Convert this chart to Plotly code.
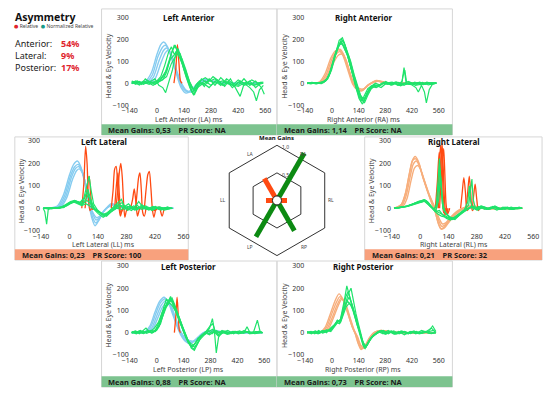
import math
import plotly.graph_objects as go

# ------------------------------------------------------------------ data
TICKS_X = [-140, 0, 140, 280, 420, 560]
TICKS_Y = [-100, 0, 100, 200, 300]

ASYM_LABELS = ["Anterior:", "Lateral:", "Posterior:"]
ASYM_VALUES = ["54%", "9%", "17%"]

GAIN_KEYS = ["LA", "RA", "LL", "RL", "LP", "RP"]
GAIN_VALUES = [0.53, 1.14, 0.23, 0.21, 0.88, 0.73]
GAIN_TEXT = ["0,53", "1,14", "0,23", "0,21", "0,88", "0,73"]
PR_SCORES = ["NA", "NA", "100", "32", "NA", "NA"]
GAIN_ANGLES = [120, 60, 180, 0, -120, -60]
GAIN_OK = [False, True, False, False, True, True]
PR_OK = [True, True, False, False, True, True]
RADAR_RINGS = [0.5, 1.0]
RING_LABELS = ["0.5", "1.0"]

# --- Left Anterior
LA_HEAD = [
    [(-130,0),(-90,2),(-60,8),(-30,45),(0,130),(20,175),(35,187),(55,165),(80,100),(105,30),(125,-20),(150,-45),(175,-35),(205,-5),(245,18),(290,8),(340,0),(430,-3),(540,0)],
    [(-130,0),(-90,0),(-55,5),(-25,35),(5,120),(30,165),(45,172),(65,145),(90,80),(115,15),(135,-25),(160,-40),(185,-28),(215,0),(255,15),(300,5),(360,0),(450,-2),(540,0)],
    [(-130,0),(-85,0),(-50,3),(-20,25),(10,100),(35,150),(52,160),(72,130),(98,60),(122,5),(145,-30),(170,-38),(195,-20),(225,2),(260,14),(310,4),(380,0),(470,0),(540,0)],
    [(-130,0),(-80,0),(-40,2),(-10,20),(20,90),(45,140),(60,150),(80,120),(105,50),(130,-5),(155,-35),(180,-40),(205,-18),(235,5),(270,12),(320,3),(400,0),(540,0)],
]
LA_EYE = [
    [(-130,5),(-110,-5),(-90,8),(-70,0),(-50,12),(-30,3),(-10,-5),(10,8),(30,15),(50,50),(70,120),(90,174),(105,150),(120,120),(140,60),(160,10),(180,-40),(195,-50),(210,-10),(230,15),(250,25),(275,10),(300,20),(330,-5),(360,10),(390,-20),(420,5),(450,-10),(480,0),(510,-5),(540,5)],
    [(-130,-3),(-100,10),(-80,-5),(-60,20),(-40,5),(-20,0),(0,10),(20,30),(40,80),(60,140),(75,165),(90,130),(110,157),(125,110),(150,30),(170,-20),(190,-55),(205,-20),(230,20),(260,0),(290,30),(320,10),(350,-15),(380,20),(410,-30),(430,-60),(450,-5),(480,10),(510,-20),(530,-5),(550,0)],
    [(-130,8),(-110,0),(-90,-8),(-70,10),(-50,0),(-30,10),(-10,20),(10,-10),(30,-20),(45,-43),(60,0),(80,60),(100,143),(115,120),(130,90),(150,40),(170,0),(185,-45),(200,-10),(220,10),(245,-15),(270,20),(300,-10),(330,25),(360,0),(390,-10),(420,15),(450,0),(480,-20),(500,-40),(514,-80),(530,-30),(550,-10)],
    [(-130,0),(-100,5),(-70,-5),(-40,8),(-10,0),(20,20),(50,60),(70,110),(90,129),(105,150),(120,135),(140,80),(160,20),(180,-20),(200,-40),(220,-5),(250,10),(280,-10),(310,15),(340,-10),(370,5),(400,-15),(430,10),(460,-5),(490,15),(520,0),(550,5)],
    [(-130,10),(-100,0),(-70,5),(-40,-5),(-10,10),(20,10),(50,30),(75,90),(95,120),(115,140),(130,100),(150,50),(170,5),(190,-30),(210,-20),(240,0),(270,-20),(300,10),(330,-10),(360,20),(390,0),(420,-10),(450,20),(480,-10),(510,10),(540,-20),(555,-50)],
    [(-130,0),(-110,10),(-80,0),(-50,5),(-20,-10),(10,5),(40,40),(60,100),(80,150),(95,170),(110,145),(130,110),(150,60),(170,0),(190,-30),(210,0),(240,-5),(270,15),(300,0),(340,10),(380,-5),(420,-15),(460,5),(500,-10),(540,0)],
]
LA_SAC = [
    [(88,0),(98,70),(106,175),(114,90),(122,10),(130,0)],
]

# --- Right Anterior
RA_HEAD = [
    [(-130,0),(-90,0),(-60,5),(-30,40),(0,110),(25,145),(42,155),(62,130),(88,60),(110,0),(135,-28),(160,-32),(190,-8),(235,10),(280,0),(400,0),(545,0)],
    [(-130,0),(-90,0),(-55,4),(-25,35),(5,105),(28,138),(45,143),(65,120),(92,50),(115,-5),(140,-30),(165,-28),(195,-5),(240,8),(290,0),(420,0),(545,0)],
    [(-130,0),(-85,0),(-50,3),(-20,30),(10,95),(35,128),(52,132),(72,110),(96,45),(118,-5),(145,-25),(170,-25),(200,-3),(245,10),(300,0),(440,0),(545,0)],
    [(-130,0),(-95,0),(-65,6),(-35,45),(-5,115),(20,148),(38,152),(58,125),(85,55),(108,-3),(132,-30),(158,-35),(188,-10),(232,12),(280,2),(380,0),(545,0)],
]
RA_EYE = [
    [(-130,0),(-110,-3),(-85,3),(-60,0),(-40,6),(-20,25),(0,75),(20,145),(38,195),(55,207),(70,170),(88,110),(105,50),(122,0),(138,-50),(152,-82),(168,-60),(188,-25),(210,-10),(235,-18),(262,0),(290,-6),(320,4),(350,-8),(368,10),(378,71),(390,-5),(415,0),(445,-6),(475,4),(505,-8),(545,0)],
    [(-130,3),(-105,0),(-80,-3),(-55,4),(-35,10),(-15,35),(5,90),(25,150),(42,180),(58,175),(75,150),(92,90),(110,30),(126,-20),(142,-70),(160,-95),(175,-70),(195,-30),(220,-5),(245,-15),(272,5),(300,-5),(330,0),(360,-12),(390,0),(420,-8),(440,-20),(453,-40),(470,-10),(485,-40),(495,-90),(510,-30),(530,0),(548,2)],
    [(-130,-2),(-100,2),(-75,0),(-50,5),(-28,18),(-8,55),(12,120),(30,165),(48,190),(62,160),(80,130),(96,80),(114,25),(130,-30),(148,-65),(165,-85),(182,-50),(200,-20),(228,0),(255,-10),(282,8),(310,-10),(340,5),(370,-5),(400,8),(430,-4),(460,5),(490,-5),(520,3),(548,0)],
    [(-130,0),(-105,4),(-80,0),(-55,-2),(-30,12),(-10,45),(10,105),(30,160),(50,200),(64,185),(80,140),(98,100),(116,40),(132,-10),(150,-55),(168,-75),(186,-40),(205,-15),(232,-20),(260,-5),(288,5),(318,-8),(348,3),(378,-10),(408,5),(438,-10),(468,-5),(498,5),(528,-3),(548,0)],
    [(-130,2),(-100,0),(-70,3),(-45,2),(-22,20),(-2,60),(18,125),(36,170),(52,185),(68,155),(84,120),(100,70),(118,15),(135,-35),(152,-60),(170,-90),(188,-55),(206,-25),(232,-10),(258,-20),(285,0),(315,5),(345,-10),(375,0),(405,-5),(435,5),(465,-8),(495,0),(525,-5),(548,0)],
    [(-130,0),(-110,2),(-85,-2),(-60,3),(-38,8),(-18,30),(2,85),(22,140),(40,175),(56,195),(72,165),(90,120),(108,60),(124,5),(140,-40),(158,-70),(176,-65),(195,-35),(218,-12),(245,-8),(275,3),(305,-4),(335,6),(365,-6),(372,30),(382,60),(392,0),(420,-5),(450,3),(480,-6),(510,2),(548,0)],
]
RA_SAC = []

# --- Left Lateral
LL_HEAD = [
    [(-130,0),(-90,2),(-60,10),(-30,60),(0,150),(20,195),(38,210),(55,185),(75,110),(95,20),(110,-45),(125,-78),(140,-60),(160,-25),(180,0),(205,20),(235,10),(280,0),(400,0),(510,0)],
    [(-130,0),(-85,2),(-55,8),(-25,55),(5,145),(25,185),(42,195),(60,170),(80,100),(98,15),(113,-40),(128,-65),(145,-50),(165,-18),(185,2),(210,18),(240,8),(290,0),(420,0),(510,0)],
    [(-130,0),(-80,0),(-50,6),(-20,50),(10,140),(30,178),(45,185),(63,160),(83,90),(100,10),(116,-30),(130,-52),(148,-40),(168,-12),(190,5),(215,16),(245,6),(300,0),(510,0)],
    [(-130,0),(-78,0),(-45,5),(-15,45),(15,130),(35,168),(48,175),(66,150),(86,80),(103,5),(118,-25),(133,-42),(152,-32),(172,-8),(195,8),(220,14),(252,5),(310,0),(510,0)],
]
LL_EYE = [
    [(-130,0),(-122,-15),(-113,-71),(-105,-5),(-90,0),(-70,3),(-50,0),(-30,5),(-10,12),(10,25),(30,30),(50,22),(65,25),(78,55),(88,71),(98,40),(112,5),(130,-10),(150,-20),(172,-32),(195,-15),(220,5),(245,18),(270,-5),(295,10),(320,-8),(350,5),(380,-5),(410,8),(440,-5),(470,3),(505,0)],
    [(-130,0),(-110,2),(-90,-3),(-70,2),(-50,5),(-30,3),(-10,15),(10,28),(30,33),(50,25),(70,45),(85,100),(96,143),(106,80),(118,20),(135,-5),(155,-25),(175,-30),(198,-10),(222,10),(240,30),(255,40),(268,10),(290,-5),(315,10),(345,0),(375,10),(405,-10),(435,5),(465,-8),(505,0)],
    [(-130,2),(-105,0),(-80,3),(-55,0),(-35,8),(-15,18),(5,30),(25,35),(45,28),(65,20),(85,35),(100,25),(118,0),(140,-15),(162,-28),(185,-20),(210,-5),(235,15),(258,25),(280,0),(305,-10),(330,15),(355,-5),(385,5),(415,-5),(445,5),(475,-3),(505,0)],
    [(-130,0),(-100,3),(-75,0),(-50,2),(-25,10),(0,25),(20,32),(40,25),(60,15),(80,40),(92,60),(105,30),(125,-5),(145,-18),(168,-35),(190,-25),(215,-5),(240,10),(265,5),(290,20),(315,-5),(340,30),(360,5),(390,-8),(420,5),(450,-8),(480,5),(505,0)],
    [(-130,0),(-110,0),(-90,2),(-65,0),(-40,6),(-20,12),(0,20),(20,28),(40,20),(60,12),(80,20),(100,10),(120,-5),(142,-25),(165,-40),(188,-28),(212,-10),(238,5),(262,15),(285,-10),(310,5),(335,-5),(360,10),(392,-5),(422,8),(452,-5),(482,5),(505,-2)],
    [(-130,0),(-105,-3),(-80,2),(-55,0),(-30,4),(-5,18),(15,25),(35,30),(55,25),(75,50),(90,85),(102,45),(120,0),(140,-12),(160,-20),(182,-35),(205,-15),(230,0),(255,-5),(280,10),(305,0),(330,-8),(355,15),(380,0),(410,-6),(440,6),(470,-4),(505,0)],
]
LL_SAC = [
    [(60,0),(70,110),(79,275),(86,200),(92,60),(100,-10),(108,0)],
    [(76,0),(86,80),(96,143),(104,60),(112,-5),(120,0)],
    [(205,0),(214,80),(222,175),(229,186),(236,110),(244,0),(250,-35),(258,-10),(266,0)],
    [(228,0),(238,90),(246,170),(252,200),(259,140),(266,20),(272,-40),(280,-10),(290,0)],
    [(222,0),(230,100),(238,157),(245,60),(252,-20),(262,0)],
    [(300,0),(310,40),(318,86),(326,30),(334,-35),(344,-5),(352,0)],
    [(325,0),(333,80),(340,140),(346,157),(353,80),(360,-20),(368,-35),(376,0)],
    [(368,0),(377,90),(385,150),(392,164),(400,90),(408,-10),(415,-40),(424,0)],
    [(400,0),(420,-10),(440,5),(455,-35),(465,0)],
]

# --- Right Lateral
RL_HEAD = [
    [(-130,0),(-115,5),(-95,15),(-75,60),(-55,150),(-40,210),(-25,230),(-10,210),(10,150),(35,80),(55,30),(72,-10),(88,-60),(102,-90),(118,-85),(140,-60),(170,-30),(200,-8),(225,5),(260,10),(300,2),(380,0),(505,0)],
    [(-130,0),(-110,4),(-90,12),(-70,55),(-50,140),(-35,195),(-20,210),(-5,190),(15,135),(40,70),(60,25),(76,-10),(92,-55),(106,-80),(122,-75),(145,-50),(175,-22),(205,-5),(232,6),(268,8),(310,0),(505,0)],
    [(-130,0),(-105,3),(-85,10),(-65,45),(-45,125),(-28,180),(-12,190),(3,170),(22,120),(45,60),(65,20),(80,-12),(96,-50),(110,-70),(126,-65),(150,-40),(180,-15),(210,0),(240,8),(275,5),(320,0),(505,0)],
    [(-130,0),(-112,6),(-92,18),(-72,70),(-52,160),(-36,215),(-22,220),(-6,198),(12,140),(36,75),(56,25),(74,-15),(90,-70),(104,-93),(120,-88),(142,-62),(172,-30),(202,-8),(228,4),(262,10),(305,0),(505,0)],
]
RL_EYE = [
    [(-130,0),(-110,2),(-90,5),(-70,8),(-50,15),(-30,22),(-10,28),(10,30),(25,35),(40,20),(55,5),(70,-5),(80,20),(88,120),(95,221),(102,130),(110,20),(125,-20),(145,-40),(160,-50),(180,-40),(205,-20),(230,-5),(255,10),(280,-8),(305,10),(330,-5),(360,8),(390,-5),(420,5),(450,-5),(480,3),(505,0)],
    [(-130,2),(-105,0),(-85,6),(-60,10),(-40,18),(-20,25),(0,30),(18,38),(33,30),(48,10),(63,0),(78,-10),(92,40),(100,150),(108,60),(118,-10),(135,-30),(152,-45),(172,-50),(195,-30),(218,-10),(236,30),(243,100),(250,30),(262,-5),(290,8),(320,-5),(350,5),(380,-8),(410,5),(440,-5),(470,3),(505,0)],
    [(-130,0),(-108,3),(-88,4),(-65,10),(-45,15),(-25,24),(-5,32),(15,35),(30,25),(45,12),(60,0),(75,-15),(95,-10),(112,-30),(130,-45),(150,-52),(170,-40),(192,-25),(215,-8),(240,15),(248,90),(256,130),(262,40),(275,-5),(300,10),(330,-5),(360,5),(390,0),(420,-5),(450,5),(480,-3),(505,0)],
    [(-130,0),(-112,0),(-92,5),(-72,6),(-52,12),(-32,20),(-12,26),(8,28),(22,38),(37,28),(52,8),(67,-8),(85,-25),(105,-35),(125,-40),(145,-45),(165,-42),(185,-30),(210,-15),(235,0),(260,5),(285,-8),(310,5),(340,-5),(370,10),(400,-5),(430,5),(460,-5),(490,5),(505,0)],
    [(-130,2),(-100,3),(-80,6),(-60,12),(-40,16),(-20,22),(0,28),(20,32),(35,22),(50,8),(65,-5),(82,10),(90,80),(97,180),(104,100),(112,0),(128,-25),(146,-38),(166,-45),(188,-35),(210,-18),(232,-5),(258,5),(284,-5),(310,8),(338,-5),(366,5),(396,-5),(426,3),(456,-5),(486,3),(505,0)],
    [(-130,0),(-106,2),(-84,5),(-62,9),(-42,14),(-22,20),(-2,25),(16,30),(30,34),(44,22),(58,5),(74,-10),(94,-20),(114,-30),(134,-40),(154,-48),(176,-42),(198,-28),(220,-12),(242,0),(266,8),(292,-3),(318,6),(346,-4),(374,6),(404,-4),(434,4),(464,-4),(494,2),(505,0)],
]
RL_SAC = [
    [(75,0),(85,120),(94,250),(100,200),(108,60),(116,-20),(125,0)],
    [(82,0),(92,140),(101,280),(108,200),(115,40),(122,-30),(132,0)],
    [(90,0),(100,150),(108,290),(114,180),(120,40),(128,-30),(138,0)],
    [(96,0),(106,160),(116,265),(122,150),(128,20),(136,-25),(146,0)],
    [(200,0),(208,70),(216,136),(224,70),(232,-10),(242,0)],
    [(228,0),(236,80),(243,143),(250,70),(258,-10),(268,0)],
    [(258,0),(265,60),(272,107),(280,40),(288,-10),(296,0)],
]

# --- Left Posterior
LP_HEAD = [
    [(-130,0),(-90,0),(-60,5),(-35,30),(-10,90),(15,140),(38,159),(58,140),(82,85),(105,30),(125,-10),(150,-40),(174,-50),(200,-35),(225,-12),(250,3),(290,10),(340,3),(420,0),(550,0)],
    [(-130,0),(-85,0),(-55,4),(-30,28),(-5,85),(20,135),(45,152),(65,132),(90,75),(112,20),(132,-15),(156,-40),(180,-45),(206,-30),(232,-8),(260,5),(300,8),(350,2),(440,0),(550,0)],
    [(-130,0),(-80,0),(-50,3),(-25,22),(0,75),(25,125),(50,145),(70,125),(95,65),(120,10),(140,-18),(162,-38),(186,-42),(212,-25),(240,-5),(270,5),(310,6),(370,0),(550,0)],
    [(-130,0),(-75,0),(-45,2),(-20,18),(5,65),(30,115),(55,137),(76,118),(100,60),(125,5),(146,-22),(168,-35),(192,-38),(218,-20),(246,-3),(280,4),(320,5),(390,0),(550,0)],
]
LP_EYE = [
    [(-130,0),(-110,5),(-90,-5),(-70,8),(-56,20),(-40,5),(-20,0),(0,10),(20,40),(40,100),(58,140),(72,162),(88,130),(104,95),(120,60),(136,20),(152,-15),(168,-45),(182,-65),(198,-50),(215,-25),(235,-15),(255,-5),(275,20),(290,63),(300,10),(310,-91),(322,-20),(340,0),(370,10),(400,-5),(430,8),(455,0),(470,26),(485,0),(505,5),(524,56),(538,5),(550,0)],
    [(-130,5),(-105,0),(-85,10),(-65,0),(-45,8),(-25,-3),(-5,15),(15,50),(35,110),(50,150),(65,140),(80,155),(96,120),(112,80),(128,40),(144,5),(160,-35),(176,-60),(192,-75),(208,-55),(226,-30),(248,-10),(270,5),(292,15),(315,-5),(340,10),(365,-5),(395,5),(425,-5),(455,10),(485,-5),(515,5),(550,0)],
    [(-130,-3),(-108,5),(-88,0),(-68,-5),(-48,5),(-28,10),(-8,5),(12,30),(32,80),(52,125),(68,145),(84,140),(100,100),(116,70),(132,30),(148,-5),(164,-40),(180,-70),(196,-80),(212,-50),(230,-20),(252,0),(275,-10),(298,5),(320,-15),(345,0),(370,-8),(400,5),(430,-5),(460,5),(490,-3),(520,5),(550,0)],
    [(-130,0),(-112,8),(-92,0),(-72,5),(-52,-3),(-32,5),(-12,20),(8,45),(28,90),(46,120),(62,130),(78,150),(94,110),(110,70),(126,35),(142,0),(158,-30),(174,-55),(190,-60),(206,-40),(224,-20),(244,-5),(266,10),(288,-5),(310,10),(335,-5),(360,5),(390,-5),(420,5),(450,-3),(480,5),(510,-5),(550,0)],
    [(-130,2),(-106,-5),(-86,5),(-66,0),(-46,10),(-26,0),(-6,10),(14,35),(34,95),(54,135),(70,155),(86,125),(102,90),(118,55),(134,15),(150,-20),(166,-50),(182,-60),(198,-65),(214,-40),(234,-15),(256,5),(278,30),(292,40),(305,5),(320,-10),(345,5),(375,-5),(405,5),(435,-3),(465,5),(495,-5),(525,3),(550,0)],
    [(-130,0),(-110,0),(-90,8),(-70,0),(-50,5),(-30,0),(-10,8),(10,25),(30,70),(50,115),(66,135),(82,120),(98,95),(114,60),(130,25),(146,-10),(162,-35),(178,-50),(194,-55),(210,-35),(228,-15),(250,0),(272,-5),(295,10),(320,0),(350,8),(380,-5),(410,5),(440,0),(470,5),(500,-3),(530,5),(550,0)],
]
LP_SAC = [
    [(92,0),(100,80),(106,159),(112,80),(118,10),(124,0)],
]

# --- Right Posterior
RP_HEAD = [
    [(-130,0),(-90,0),(-60,3),(-35,25),(-10,80),(15,140),(37,174),(58,150),(82,90),(105,30),(120,0),(138,-50),(153,-76),(172,-60),(195,-25),(220,0),(255,10),(300,3),(380,0),(545,0)],
    [(-130,0),(-85,0),(-55,3),(-30,22),(-5,75),(20,130),(42,162),(62,140),(86,80),(108,22),(124,-8),(142,-55),(158,-72),(178,-55),(200,-20),(225,2),(260,10),(310,2),(400,0),(545,0)],
    [(-130,0),(-80,0),(-50,2),(-25,18),(0,65),(25,120),(48,155),(68,132),(92,70),(113,15),(130,-15),(148,-55),(165,-68),(184,-50),(206,-18),(232,3),(268,9),(320,2),(420,0),(545,0)],
    [(-130,0),(-78,0),(-45,2),(-20,15),(5,60),(30,115),(53,152),(72,128),(96,65),(117,10),(135,-20),(152,-58),(170,-70),(190,-48),(212,-15),(240,4),(275,8),(330,0),(545,0)],
]
RP_EYE = [
    [(-130,0),(-110,5),(-90,-5),(-70,10),(-50,0),(-30,8),(-10,15),(10,30),(28,56),(42,50),(55,100),(66,150),(78,210),(90,170),(102,120),(118,80),(134,30),(148,0),(160,-40),(170,-70),(182,-55),(198,-30),(218,-10),(242,5),(268,-5),(295,10),(322,-5),(350,5),(380,-10),(410,5),(440,-5),(470,10),(500,0),(528,30),(545,5)],
    [(-130,5),(-108,-5),(-88,5),(-68,0),(-48,10),(-28,0),(-8,20),(12,35),(30,50),(45,60),(60,110),(72,160),(85,185),(98,150),(112,110),(128,60),(142,20),(154,-20),(165,-60),(178,-65),(192,-40),(210,-20),(232,-5),(258,10),(285,0),(312,8),(340,-5),(370,5),(400,-5),(430,8),(460,-5),(490,5),(520,-5),(545,0)],
    [(-130,-2),(-112,3),(-92,0),(-72,-5),(-52,8),(-32,5),(-12,10),(8,25),(26,45),(40,40),(54,80),(68,120),(82,140),(95,130),(110,100),(124,55),(138,15),(150,-25),(162,-55),(174,-72),(188,-50),(205,-25),(226,-8),(250,8),(276,-5),(302,5),(330,-8),(360,5),(390,-5),(420,5),(450,-3),(480,5),(510,-3),(545,0)],
    [(-130,3),(-106,0),(-86,8),(-66,-3),(-46,5),(-26,10),(-6,5),(14,30),(32,48),(48,55),(62,95),(76,135),(90,160),(104,130),(118,90),(132,45),(146,5),(158,-35),(170,-60),(184,-58),(200,-30),(220,-12),(244,0),(270,10),(296,-5),(324,8),(352,-5),(382,5),(412,-5),(442,5),(472,-3),(502,5),(532,10),(545,0)],
    [(-130,0),(-110,0),(-90,5),(-70,-2),(-50,3),(-30,12),(-10,8),(10,28),(28,52),(44,45),(58,90),(72,130),(86,175),(100,200),(112,140),(126,85),(140,35),(152,-5),(164,-45),(176,-68),(190,-45),(208,-20),(230,-5),(256,5),(282,-8),(308,5),(336,-5),(364,8),(394,-5),(424,3),(454,-5),(484,5),(514,-2),(545,0)],
    [(-130,2),(-108,-3),(-88,3),(-68,5),(-48,-2),(-28,6),(-8,12),(12,32),(30,55),(46,48),(60,85),(74,115),(88,130),(100,125),(114,95),(128,50),(142,10),(156,-30),(168,-50),(180,-62),(194,-42),(212,-20),(236,-3),(262,8),(288,-3),(314,6),(342,-4),(372,5),(402,-4),(432,4),(462,-4),(492,4),(522,20),(545,0)],
]
RP_SAC = []

# ------------------------------------------------------------------ style / layout
W, H = 550, 395
FONT = "Noto Sans, Open Sans, DejaVu Sans, sans-serif"
BLUE = "#86CCF0"
ORANGE = "#F7AE7C"
GREEN = "#1FE36B"
RED = "#FF4A12"
BAR_GREEN = "#7DC38F"
BAR_ORANGE = "#F8A17D"
BOX = "#D6D6D6"
DARK_GREEN = "#0C8A12"

def fx(p):
    return p / W

def fy(p):
    return 1 - p / H

PANELS = [
    dict(title="Left Anterior", xlab="Left Anterior (LA) ms", head=LA_HEAD, eye=LA_EYE, sac=LA_SAC, hc=BLUE,
         box=(96, 4, 276, 133), plot=(125, 12.5, 264, 102.5), bar=(96, 122, 276, 133), i=0),
    dict(title="Right Anterior", xlab="Right Anterior (RA) ms", head=RA_HEAD, eye=RA_EYE, sac=RA_SAC, hc=ORANGE,
         box=(276, 4, 456, 133), plot=(305, 12.5, 442, 102.5), bar=(276, 122, 456, 133), i=1),
    dict(title="Left Lateral", xlab="Left Lateral (LL) ms", head=LL_HEAD, eye=LL_EYE, sac=LL_SAC, hc=BLUE,
         box=(7, 135, 185, 261), plot=(34, 139, 180, 231), bar=(7, 250, 185, 261), i=2),
    dict(title="Right Lateral", xlab="Right Lateral (RL) ms", head=RL_HEAD, eye=RL_EYE, sac=RL_SAC, hc=ORANGE,
         box=(366, 135, 548, 261), plot=(394, 139, 539, 231), bar=(366, 250, 548, 261), i=3),
    dict(title="Left Posterior", xlab="Left Posterior (LP) ms", head=LP_HEAD, eye=LP_EYE, sac=LP_SAC, hc=BLUE,
         box=(96, 262, 276, 391), plot=(125, 267, 263, 358), bar=(96, 380, 276, 391), i=4),
    dict(title="Right Posterior", xlab="Right Posterior (RP) ms", head=RP_HEAD, eye=RP_EYE, sac=RP_SAC, hc=ORANGE,
         box=(276, 262, 456, 391), plot=(305, 267, 442, 358), bar=(276, 380, 456, 391), i=5),
]

fig = go.Figure()
shapes = []
annotations = []
layout_axes = {}

def add_curves(curves, color, width, xa, ya, shape):
    for c in curves:
        fig.add_trace(go.Scatter(
            x=[p[0] for p in c], y=[p[1] for p in c], mode="lines",
            line=dict(color=color, width=width, shape=shape, smoothing=0.8 if shape == "spline" else None),
            xaxis=xa, yaxis=ya, showlegend=False, hoverinfo="skip"))

def txt(x, y, s, size=8, color="#222", bold=False, xanchor="center", angle=0):
    annotations.append(dict(
        x=fx(x), y=fy(y), xref="paper", yref="paper", showarrow=False,
        text=("<b>%s</b>" % s) if bold else s, textangle=angle,
        font=dict(size=size, color=color, family=FONT),
        xanchor=xanchor, yanchor="middle", borderpad=0))

for P in PANELS:
    k = P["i"]
    n = "" if k == 0 else str(k + 1)
    xa, ya = "x" + n, "y" + n
    x0, y0, x1, y1 = P["plot"]
    layout_axes["xaxis" + n] = dict(
        domain=[fx(x0), fx(x1)], anchor=ya, range=[-140, 560], tickvals=TICKS_X,
        showgrid=False, zeroline=False, showline=False, ticks="", ticklabelstandoff=0,
        tickfont=dict(size=7, color="#333", family=FONT), fixedrange=True)
    layout_axes["yaxis" + n] = dict(
        domain=[fy(y1), fy(y0)], anchor=xa, range=[-100, 300], tickvals=TICKS_Y,
        showgrid=False, zeroline=False, showline=False, ticks="",
        tickfont=dict(size=7, color="#333", family=FONT), fixedrange=True)
    add_curves(P["head"], P["hc"], 1.4, xa, ya, "spline")
    add_curves(P["sac"], RED, 1.3, xa, ya, "spline")
    add_curves(P["eye"], GREEN, 1.2, xa, ya, "linear")

    bx0, by0, bx1, by1 = P["box"]
    shapes.append(dict(type="rect", xref="paper", yref="paper", x0=fx(bx0), x1=fx(bx1), y0=fy(by1), y1=fy(by0),
                       line=dict(color=BOX, width=1), fillcolor="rgba(0,0,0,0)", layer="below"))
    rx0, ry0, rx1, ry1 = P["bar"]
    barcol = BAR_GREEN if PR_OK[k] else BAR_ORANGE
    shapes.append(dict(type="rect", xref="paper", yref="paper", x0=fx(rx0), x1=fx(rx1), y0=fy(ry1), y1=fy(ry0),
                       line=dict(width=0), fillcolor=barcol, layer="below"))
    txt(rx0 + 6, (ry0 + ry1) / 2 + 0.5, "Mean Gains: %s\u00a0\u00a0\u00a0\u00a0PR Score: %s" % (GAIN_TEXT[k], PR_SCORES[k]),
        size=7.5, bold=True, xanchor="left", color="#1a1a1a")
    cx = (x0 + x1) / 2 - 9
    txt(cx, y0 + 0.5, P["title"], size=8, bold=True, color="#111")
    txt(cx, y1 + 14.5, P["xlab"], size=7, color="#444")
    txt(bx0 + 7, (y0 + y1) / 2 + 5, "Head &amp; Eye Velocity", size=7, color="#444", angle=-90)

# ------------------------------------------------------------------ radar
RMAX = 1.2
CX, CY, UNIT = 276, 200, 49
rr = RMAX * UNIT
cos30 = math.cos(math.radians(30))
HEX_THETA = [90, 30, -30, -90, -150, 150, 90]
for ring in RADAR_RINGS:
    fig.add_trace(go.Scatterpolar(r=[ring / cos30] * len(HEX_THETA), theta=HEX_THETA, mode="lines",
                                  line=dict(color="#333", width=1), showlegend=False, hoverinfo="skip",
                                  subplot="polar"))
for key, g, a, ok in zip(GAIN_KEYS, GAIN_VALUES, GAIN_ANGLES, GAIN_OK):
    fig.add_trace(go.Scatterpolar(r=[0, g], theta=[a, a], mode="lines",
                                  line=dict(color=DARK_GREEN if ok else RED, width=5),
                                  showlegend=False, hoverinfo="skip", subplot="polar"))
fig.add_trace(go.Scatterpolar(r=[0], theta=[0], mode="markers",
                              marker=dict(size=9, color="white", line=dict(color="#222", width=1)),
                              showlegend=False, hoverinfo="skip", subplot="polar"))

txt(CX, 136, "Mean Gains", size=6, bold=True, color="#111")
for lab, ring in zip(RING_LABELS, RADAR_RINGS):
    txt(CX + 4, CY - ring / cos30 * UNIT + 2, lab, size=5, color="#444", xanchor="left")
for key, a in zip(GAIN_KEYS, GAIN_ANGLES):
    d = 55
    txt(CX + d * math.cos(math.radians(a)), CY - d * math.sin(math.radians(a)), key, size=5, color="#444")

# ------------------------------------------------------------------ asymmetry block
txt(6, 12, "Asymmetry", size=10.5, bold=True, xanchor="left", color="#111")
txt(5, 21.5, "<span style='color:#E0242C'>\u25cf</span> Relative  <span style='color:#1A9A8A'>\u25cf</span> Normalized Relative",
    size=5, xanchor="left", color="#444")
for j, (lab, val) in enumerate(zip(ASYM_LABELS, ASYM_VALUES)):
    yy = 39 + j * 12.3
    txt(6, yy, lab, size=9, xanchor="left", color="#222")
    txt(53, yy, val, size=9, bold=True, xanchor="left", color="#E0242C")

fig.update_layout(
    width=W, height=H, margin=dict(l=0, r=0, t=0, b=0),
    paper_bgcolor="white", plot_bgcolor="rgba(0,0,0,0)",
    showlegend=False, shapes=shapes, annotations=annotations,
    font=dict(family=FONT),
    polar=dict(
        domain=dict(x=[fx(CX - rr), fx(CX + rr)], y=[fy(CY + rr), fy(CY - rr)]),
        bgcolor="rgba(0,0,0,0)",
        radialaxis=dict(range=[0, RMAX], visible=False),
        angularaxis=dict(visible=False, rotation=0, direction="counterclockwise"),
    ),
    **layout_axes,
)

fig.write_html("out.html", config={"displayModeBar": False},
               post_script="document.body.style.margin='0';document.body.style.overflow='hidden';")
